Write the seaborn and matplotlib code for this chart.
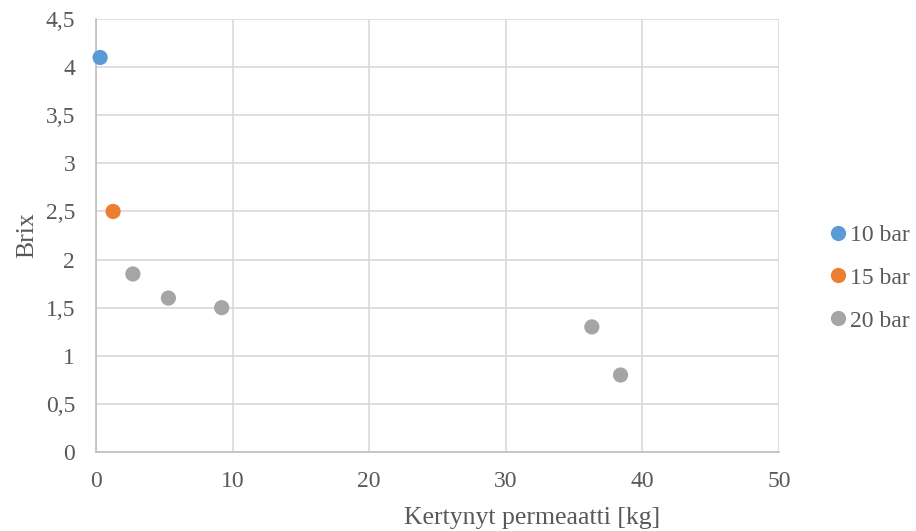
import matplotlib
matplotlib.use("Agg")
import matplotlib.pyplot as plt
import seaborn as sns
import pandas as pd

series = ["10 bar", "15 bar", "20 bar", "20 bar", "20 bar", "20 bar", "20 bar"]
permeate_kg = [0.3, 1.25, 2.7, 5.3, 9.2, 36.3, 38.4]
brix = [4.1, 2.5, 1.85, 1.6, 1.5, 1.3, 0.8]
hue_order = ["10 bar", "15 bar", "20 bar"]
colors = ["#5B9BD5", "#ED7D31", "#A5A5A5"]
x_ticks = [0, 10, 20, 30, 40, 50]
y_ticks = [0, 0.5, 1, 1.5, 2, 2.5, 3, 3.5, 4, 4.5]

df = pd.DataFrame({"series": series, "x": permeate_kg, "y": brix})

sns.set_theme(style="white")
plt.rcParams["font.family"] = ["Liberation Serif", "DejaVu Serif"]
text_color = "#595959"

fig = plt.figure(figsize=(9.16, 5.31), dpi=100)
ax = fig.add_axes([96/916, 1-452/531, (779-96)/916, (452-19)/531])

sns.scatterplot(data=df, x="x", y="y", hue="series", hue_order=hue_order,
                palette=colors, s=120, edgecolor="none", ax=ax, zorder=3,
                clip_on=False)

ax.set_xlim(0, 50)
ax.set_ylim(0, 4.5)
ax.set_xticks(x_ticks)
ax.set_yticks(y_ticks)
ax.set_xticklabels([str(t) for t in x_ticks])
ax.set_yticklabels([("%g" % t).replace(".", ",") for t in y_ticks])
ax.tick_params(axis="both", length=0, labelsize=17, colors=text_color)
ax.tick_params(axis="x", pad=14)
ax.tick_params(axis="y", pad=15)
ax.grid(True, color="#D9D9D9", linewidth=1.2)
ax.set_axisbelow(True)
for side in ["top", "right"]:
    ax.spines[side].set_visible(False)
for side in ["left", "bottom"]:
    ax.spines[side].set_color("#BFBFBF")
    ax.spines[side].set_linewidth(1.2)
ax.set_xlabel("Kertynyt permeaatti [kg]", fontsize=18.5, color=text_color, va="center")
ax.xaxis.set_label_coords((532-96)/683, (452-518)/433)
ax.set_ylabel("Brix", fontsize=18.5, color=text_color, va="center")
ax.yaxis.set_label_coords((27-96)/683, (452-235)/433)

leg = ax.legend(loc="center left", bbox_to_anchor=(826/916, 1-278/531),
                bbox_transform=fig.transFigure, frameon=False, fontsize=17,
                handletextpad=0.0, labelspacing=0.9, markerscale=1.0,
                borderpad=0, borderaxespad=0, handlelength=1.0)
for t in leg.get_texts():
    t.set_color(text_color)

fig.savefig("out.png", dpi=100)
